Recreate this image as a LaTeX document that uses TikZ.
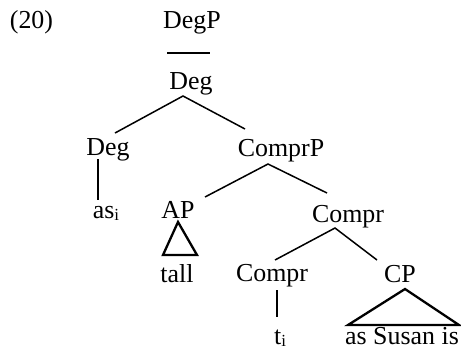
\documentclass[tikz,border=0pt]{standalone}
\usepackage{fontspec}
\setmainfont{Liberation Serif}
\newcommand\subi{\raisebox{-2bp}{\fontsize{17}{17}\selectfont i}}
\begin{document}
\begin{tikzpicture}[x=1bp,y=-1bp,
  lbl/.style={font=\fontsize{26}{30}\selectfont, anchor=base, inner sep=0pt},
  branch/.style={line width=1.5bp},
  tri/.style={line width=2.3bp, line join=miter}]
\useasboundingbox (0,0) rectangle (461,350);
% labels
\node[lbl] (ex) at (31.5,28) {(20)};
\node[lbl] (degp) at (192,28) {DegP};
\node[lbl] (degbar) at (191,89) {Deg};
\node[lbl] (deg) at (108,155) {Deg};
\node[lbl] (as) at (106,218) {as\subi};
\node[lbl] (comprp) at (281,156) {ComprP};
\node[lbl] (ap) at (178,218) {AP};
\node[lbl] (tall) at (177,282) {tall};
\node[lbl] (comprbar) at (348,222) {Compr};
\node[lbl] (compr) at (272,281) {Compr};
\node[lbl] (cp) at (400,282) {CP};
\node[lbl] (t) at (280,344) {t\subi};
\node[lbl] (asi) at (402,344) {as Susan is};
% connector end points
\coordinate (barL) at (167,53);
\coordinate (barR) at (210,53);
\coordinate (a1) at (183,96);
\coordinate (a1l) at (115,133);
\coordinate (a1r) at (245,129);
\coordinate (v1t) at (98,159);
\coordinate (v1b) at (98,200);
\coordinate (a2) at (268,164);
\coordinate (a2l) at (205,197);
\coordinate (a2r) at (327,193);
\coordinate (a3) at (335,228);
\coordinate (a3l) at (275,260);
\coordinate (a3r) at (377,260);
\coordinate (v2t) at (277,290);
\coordinate (v2b) at (277,317);
\coordinate (t1) at (178,222);
\coordinate (t1l) at (163,255);
\coordinate (t1r) at (197,255);
\coordinate (t2) at (405,289);
\coordinate (t2l) at (348,325);
\coordinate (t2r) at (459,325);
% connectors
\draw[branch] (barL) -- (barR);
\draw[branch] (a1l) -- (a1) -- (a1r);
\draw[branch] (v1t) -- (v1b);
\draw[branch] (a2l) -- (a2) -- (a2r);
\draw[branch] (a3l) -- (a3) -- (a3r);
\draw[branch] (v2t) -- (v2b);
\draw[tri] (t1) -- (t1l) -- (t1r) -- cycle;
\draw[tri] (t2) -- (t2l) -- (t2r) -- cycle;
\end{tikzpicture}
\end{document}
